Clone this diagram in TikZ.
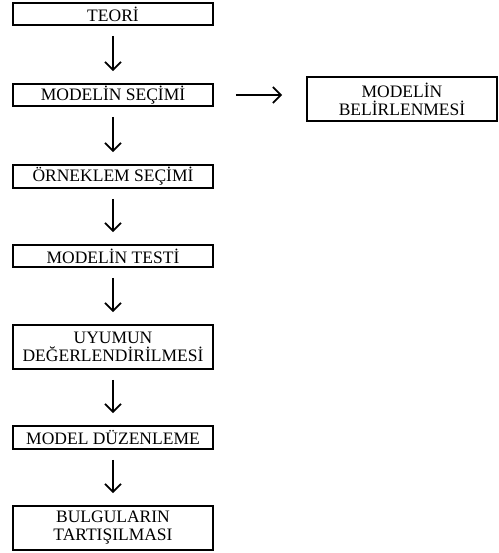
\documentclass[tikz,border=0pt]{standalone}
\usepackage{fontspec}
\setmainfont{Liberation Serif}
\usetikzlibrary{arrows.meta}
\begin{document}
\begin{tikzpicture}[x=1pt,y=-1pt,
  box/.style={draw,line width=1.6pt,minimum width=200pt,inner sep=0pt,align=center,font=\fontsize{17.5}{18}\selectfont},
  flow/.style={line width=1.8pt,-{Straight Barb[length=8pt,width=16pt,line width=1.8pt]},shorten <=10pt,shorten >=12pt}]
\useasboundingbox (0,0) rectangle (498,553);
\node[box,minimum height=22pt] (teori) at (113,14) {TEORİ};
\node[box,minimum height=22pt] (secim) at (113,95) {MODELİN SEÇİMİ};
\node[box,minimum height=23pt] (orneklem) at (113,176.5) {ÖRNEKLEM SEÇİMİ};
\node[box,minimum height=22pt] (test) at (113,256) {MODELİN TESTİ};
\node[box,minimum height=44pt] (uyum) at (113,347) {UYUMUN\\DEĞERLENDİRİLMESİ};
\node[box,minimum height=23pt] (duzen) at (113,437.5) {MODEL DÜZENLEME};
\node[box,minimum height=44pt] (bulgu) at (113,528) {BULGULARIN\\TARTIŞILMASI};
\node[box,minimum width=190pt,minimum height=44pt] (belir) at (402,99) {MODELİN\\BELİRLENMESİ};
\draw[flow] (teori) -- (secim);
\draw[flow] (secim) -- (orneklem);
\draw[flow] (orneklem) -- (test);
\draw[flow] (test) -- (uyum);
\draw[flow] (uyum) -- (duzen);
\draw[flow] (duzen) -- (bulgu);
\draw[flow,shorten <=22pt,shorten >=24pt] (secim.east) -- (secim.east -| belir.west);
\end{tikzpicture}
\end{document}
